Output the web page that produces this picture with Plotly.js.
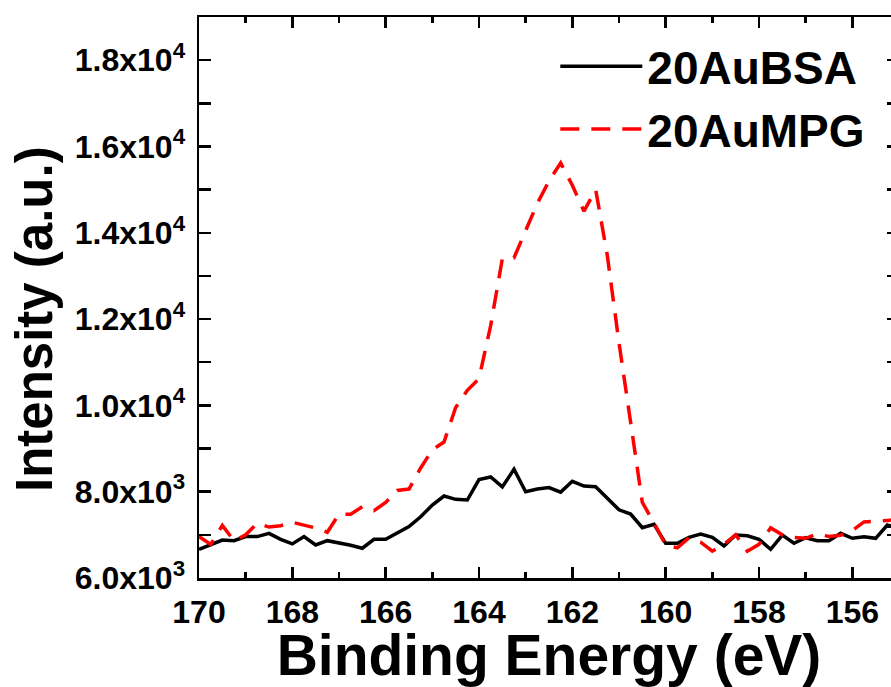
<!DOCTYPE html>
<html>
<head>
<meta charset="utf-8">
<script src="https://cdn.plot.ly/plotly-3.0.1.min.js"></script>
<style>
  html, body { margin: 0; padding: 0; background: #fff; overflow: hidden; }
  #chart { width: 900px; height: 687px; }
</style>
</head>
<body>
<div id="chart"></div>
<script>
// Binding energy grid (eV), scanned from high to low
const bindingEnergy = [
  170.00, 169.75, 169.50, 169.25, 169.00, 168.75, 168.50, 168.25,
  168.00, 167.75, 167.50, 167.25, 167.00, 166.75, 166.50, 166.25,
  166.00, 165.75, 165.50, 165.25, 165.00, 164.75, 164.50, 164.25,
  164.00, 163.75, 163.50, 163.25, 163.00, 162.75, 162.50, 162.25,
  162.00, 161.75, 161.50, 161.25, 161.00, 160.75, 160.50, 160.25,
  160.00, 159.75, 159.50, 159.25, 159.00, 158.75, 158.50, 158.25,
  158.00, 157.75, 157.50, 157.25, 157.00, 156.75, 156.50, 156.25,
  156.00, 155.75, 155.50, 155.25, 155.00
];

// S 2p region intensity, 20AuBSA sample
const intensityBSA = [
  6665, 6765, 6880, 6865, 6960, 6960, 7035, 6895,
  6790, 6960, 6765, 6865, 6815, 6760, 6690, 6897,
  6897, 7035, 7190, 7420, 7690, 7900, 7823, 7807,
  8280, 8340, 8110, 8520, 8000, 8060, 8095, 7990,
  8240, 8131, 8115, 7847, 7580, 7483, 7166, 7244,
  6804, 6804, 6943, 7020, 6943, 6741, 6996, 6980,
  6897, 6665, 6996, 6804, 6934, 6865, 6865, 7035,
  6920, 6957, 6920, 7228, 7150
];

// S 2p region intensity, 20AuMPG sample
const intensityMPG = [
  6960, 6780, 7220, 6860, 7000, 7270, 7180, 7210,
  7290, 7230, 7160, 7060, 7480, 7480, 7650, 7560,
  7750, 8030, 8060, 8550, 8970, 9150, 9950, 10350,
  10620, 11850, 13400, 13420, 14050, 14680, 15200, 15620,
  15100, 14500, 15000, 13470, 11450, 9660, 7750, 7280,
  6760, 6700, 6930, 6830, 6620, 6780, 7000, 6620,
  6780, 7160, 7000, 6940, 6920, 7020, 6960, 6990,
  7100, 7300, 7320, 7330, 7380
];

const seriesNames = ['20AuBSA', '20AuMPG'];

// Y tick labels in scientific notation
const yTickValues = [6000, 8000, 10000, 12000, 14000, 16000, 18000];
const yTickLabels = [
  '6.0x10<sup>3</sup>', '8.0x10<sup>3</sup>', '1.0x10<sup>4</sup>',
  '1.2x10<sup>4</sup>', '1.4x10<sup>4</sup>', '1.6x10<sup>4</sup>',
  '1.8x10<sup>4</sup>'
];

const FONT = '"Liberation Sans", Arial, Helvetica, sans-serif';

const traces = [
  {
    x: bindingEnergy, y: intensityBSA, name: seriesNames[0],
    type: 'scatter', mode: 'lines',
    line: { color: '#000000', width: 3.5 }
  },
  {
    x: bindingEnergy, y: intensityMPG, name: seriesNames[1],
    type: 'scatter', mode: 'lines',
    line: { color: '#ff0000', width: 3.5, dash: '19px,12px' }
  }
];

const axisCommon = {
  showline: true, linecolor: '#000', linewidth: 2.5,
  mirror: 'allticks', ticks: 'inside', tickcolor: '#000', tickwidth: 2.5,
  showgrid: false, zeroline: false
};

const layout = {
  width: 900, height: 687,
  margin: { l: 199, r: 1, t: 17, b: 109 },
  paper_bgcolor: '#fff', plot_bgcolor: '#fff',
  font: { family: FONT, color: '#000' },
  showlegend: true,
  legend: {
    x: 0.509, y: 0.977, xanchor: 'left', yanchor: 'top',
    bgcolor: 'rgba(0,0,0,0)', borderwidth: 0,
    font: { family: FONT, size: 46, weight: 700, color: '#000' },
    itemwidth: 82, tracegroupgap: 0
  },
  xaxis: Object.assign({}, axisCommon, {
    range: [170, 155], autorange: false,
    tick0: 170, dtick: 2, ticklen: 11,
    minor: { dtick: 1, ticklen: 6, tickwidth: 2.5, tickcolor: '#000', ticks: 'inside' },
    tickfont: { family: FONT, size: 32, weight: 700 },
    ticklabelstandoff: 4,
    title: { text: 'Binding Energy (eV)', font: { family: FONT, size: 57, weight: 700 }, standoff: 6 }
  }),
  yaxis: Object.assign({}, axisCommon, {
    range: [6000, 19000], autorange: false,
    tickmode: 'array', tickvals: yTickValues, ticktext: yTickLabels, ticklen: 12,
    minor: { dtick: 1000, tick0: 0, ticklen: 12, tickwidth: 2.5, tickcolor: '#000', ticks: 'inside' },
    tickfont: { family: FONT, size: 32, weight: 700 },
    ticklabelstandoff: 5
  }),
  annotations: [{
    text: 'Intensity (a.u.)', textangle: -90,
    xref: 'paper', yref: 'paper', x: -0.234, y: 0.462,
    xanchor: 'center', yanchor: 'middle', showarrow: false,
    font: { family: FONT, size: 51, weight: 700, color: '#000' }
  }]
};

Plotly.newPlot('chart', traces, layout, { displayModeBar: false, staticPlot: true });
</script>
</body>
</html>
